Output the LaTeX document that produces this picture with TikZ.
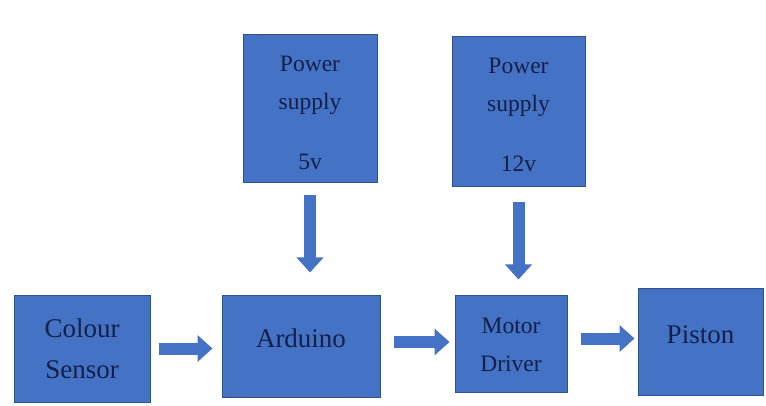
\documentclass[tikz,border=0pt]{standalone}
\usepackage{fontspec}
\setmainfont{Liberation Serif}
\usetikzlibrary{arrows.meta}
\definecolor{boxblue}{HTML}{4472C4}
\definecolor{boxedge}{HTML}{2F528F}
\definecolor{textnavy}{HTML}{14204A}

\begin{document}
\begin{tikzpicture}[x=1pt, y=-1pt, >=Stealth,
    block/.style={draw=boxedge, fill=boxblue, line width=1pt, text=textnavy, align=center, inner sep=0pt},
    bigtext/.style={font=\fontsize{27}{41}\selectfont},
    smalltext/.style={font=\fontsize{23.5}{38}\selectfont},
    flow/.style={boxblue, line width=12pt, -{Triangle[length=15pt, width=26pt]}}]

    \useasboundingbox (0,0) rectangle (766,406);

    % Power supplies
    \node[block, smalltext, minimum width=134, minimum height=148] (ps5) at (310,109) {\rule{0pt}{24pt}Power\\supply\\[22pt]5v};
    \node[block, smalltext, minimum width=133, minimum height=150] (ps12) at (518.5,112) {\rule{0pt}{22pt}Power\\supply\\[22pt]12v};

    % Main chain
    \node[block, bigtext, minimum width=136, minimum height=107] (cs) at (82,348.5) {Colour\\Sensor};
    \node[block, bigtext, minimum width=158, minimum height=102, text depth=16pt] (ard) at (301,346) {Arduino};
    \node[block, smalltext, minimum width=112, minimum height=97] (md) at (511,343.5) {\rule{0pt}{19pt}Motor\\Driver};
    \node[block, bigtext, minimum width=125, minimum height=107, text depth=14pt] (pis) at (700.5,341.5) {Piston};

    % Power feeds
    \draw[flow, shorten <=12pt, shorten >=22pt] (ps5.south) -- (ps5.south |- ard.north);
    \draw[flow, shorten <=15pt, shorten >=15pt] (ps12.south) -- (ps12.south |- md.north);

    % Signal flow
    \draw[flow, shorten <=8pt, shorten >=9pt] (cs.east) -- (cs.east -| ard.west);
    \draw[flow, shorten <=13pt, shorten >=5pt] ([yshift=4pt]ard.east) -- ([yshift=4pt]ard.east -| md.west);
    \draw[flow, shorten <=13pt, shorten >=3pt] ([yshift=5pt]md.east) -- ([yshift=5pt]md.east -| pis.west);

\end{tikzpicture}
\end{document}
